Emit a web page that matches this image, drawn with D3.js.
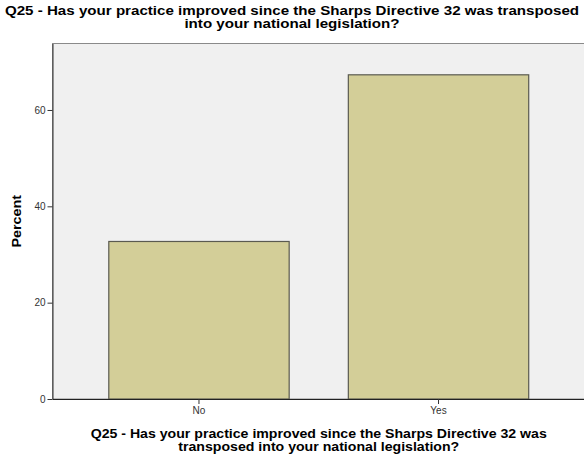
<!DOCTYPE html>
<html>
<head>
<meta charset="utf-8">
<script src="https://cdn.jsdelivr.net/npm/d3@7"></script>
<style>
  body { margin: 0; background: #fff; }
  svg text { font-family: "Liberation Sans", Arial, sans-serif; }
</style>
</head>
<body>
<div class="container"></div>
<script>
// data
var categories = ["No", "Yes"];
var percents = [32.7, 67.3];
var yTicks = [0, 20, 40, 60];
var titleLines = ["Q25 - Has your practice improved since the Sharps Directive 32 was transposed",
                  "into your national legislation?"];
var xTitleLines = ["Q25 - Has your practice improved since the Sharps Directive 32 was",
                   "transposed into your national legislation?"];

var width = 584, height = 458;
var margin = { top: 43.5, right: -1, bottom: 59, left: 52.5 };
var plotW = width - margin.left - margin.right;
var plotH = height - margin.top - margin.bottom;

var svg = d3.select(".container")
    .append("svg")
        .attr("width", width)
        .attr("height", height);

// stretch text horizontally (reference glyphs render wider than ours)
function widen(sel, f) {
    sel.each(function () {
        var w = this.getComputedTextLength();
        d3.select(this)
            .attr("textLength", w * f)
            .attr("lengthAdjust", "spacingAndGlyphs");
    });
}

// title
var title = svg.append("g").selectAll("text")
    .data(titleLines)
    .enter()
    .append("text")
        .attr("x", 292)
        .attr("y", (d, i) => 15 + i * 12.5)
        .attr("text-anchor", "middle")
        .attr("font-size", "12.5px")
        .attr("font-weight", "bold")
        .text(d => d);
widen(title, 1.21);

var g = svg.append("g")
    .attr("transform", "translate(" + margin.left + "," + margin.top + ")");

var x = d3.scaleBand()
    .domain(categories)
    .range([0, plotW])
    .paddingInner(0.247)
    .paddingOuter(0.235);

var y = d3.scaleLinear()
    .domain([0, 73.8])
    .range([plotH, 0]);

// plot background
g.append("rect")
    .attr("x", 0)
    .attr("y", 0)
    .attr("width", plotW)
    .attr("height", plotH)
    .attr("fill", "#f0f0f0")
    .attr("stroke", "#8a8a8a")
    .attr("stroke-width", 1);

// bars
g.selectAll("rect.bar")
    .data(percents)
    .enter()
    .append("rect")
        .attr("class", "bar")
        .attr("x", (d, i) => x(categories[i]))
        .attr("y", d => y(d))
        .attr("width", x.bandwidth())
        .attr("height", d => y(0) - y(d))
        .attr("fill", "#d3ce98")
        .attr("stroke", "#5a5a50")
        .attr("stroke-width", 1.2);

// axes
var yAxis = g.append("g")
    .call(d3.axisLeft(y).tickValues(yTicks).tickSize(5).tickSizeOuter(0).tickPadding(2));
yAxis.select(".domain").attr("stroke", "#333");
yAxis.selectAll(".tick line").attr("stroke", "#333");
yAxis.selectAll("text").attr("font-size", "10px").attr("fill", "#333")
    .attr("font-family", "'Liberation Sans', Arial, sans-serif");

var xAxis = g.append("g")
    .attr("transform", "translate(0," + plotH + ")")
    .call(d3.axisBottom(x).tickSize(5).tickSizeOuter(0).tickPadding(3));
xAxis.select(".domain").attr("stroke", "#222").attr("stroke-width", 1.2);
xAxis.selectAll(".tick line").attr("stroke", "#333");
xAxis.selectAll("text").attr("font-size", "10px").attr("fill", "#333")
    .attr("font-family", "'Liberation Sans', Arial, sans-serif");

// y title
var yTitle = svg.append("text")
    .attr("transform", "translate(21," + (margin.top + plotH / 2) + ") rotate(-90)")
    .attr("text-anchor", "middle")
    .attr("font-size", "12.5px")
    .attr("font-weight", "bold")
    .text("Percent");
widen(yTitle, 1.15);

// x title
var xc = margin.left + plotW / 2;
var xTitle = svg.append("g").selectAll("text")
    .data(xTitleLines)
    .enter()
    .append("text")
        .attr("x", xc)
        .attr("y", (d, i) => 438 + i * 12.5)
        .attr("text-anchor", "middle")
        .attr("font-size", "12.5px")
        .attr("font-weight", "bold")
        .text(d => d);
widen(xTitle, 1.13);
</script>
</body>
</html>
